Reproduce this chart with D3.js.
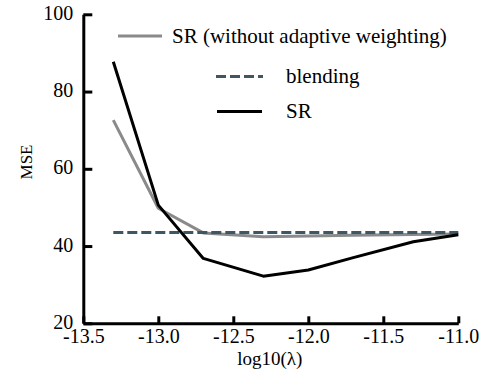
<!DOCTYPE html>
<html>
<head>
<meta charset="utf-8">
<script src="https://cdn.jsdelivr.net/npm/d3@7"></script>
<style>
  html, body { margin: 0; padding: 0; background: #fff; }
  svg text { font-family: 'Liberation Serif', 'Times New Roman', 'DejaVu Serif', serif !important; fill: #000; }
</style>
</head>
<body>
<div id="chart"></div>
<script>
const lambdas = [-13.3, -13.0, -12.7, -12.3, -12.0, -11.7, -11.3, -11.0];
const srValues = [87.7, 50.6, 36.8, 32.2, 33.8, 37.0, 41.1, 42.9];
const srNoAdaptValues = [72.6, 49.8, 43.4, 42.4, 42.6, 42.8, 43.0, 43.1];
const blendingValues = [43.5, 43.5, 43.5, 43.5, 43.5, 43.5, 43.5, 43.5];
const xTicks = [-13.5, -13.0, -12.5, -12.0, -11.5, -11.0];
const yTicks = [20, 40, 60, 80, 100];
const seriesNames = ["SR (without adaptive weighting)", "blending", "SR"];

const W = 491, H = 374;
const x0 = 83.3, x1 = 458.3, yTop = 14.3, yBot = 323.3;

const svg = d3.select("#chart").append("svg").attr("width", W).attr("height", H);

const x = d3.scaleLinear().domain([-13.5, -11.0]).range([x0, x1]);
const y = d3.scaleLinear().domain([20, 100]).range([yBot, yTop]);

const fmt = v => v.toFixed(1).replace("\u2212", "-");

const xAxis = d3.axisBottom(x).tickValues(xTicks).tickSize(-7).tickSizeOuter(0).tickPadding(0).tickFormat(fmt);
const yAxis = d3.axisLeft(y).tickValues(yTicks).tickSize(-9).tickSizeOuter(0).tickPadding(10).tickFormat(d3.format("d"));

const gx = svg.append("g").attr("transform", `translate(0,${yBot})`).call(xAxis);
const gy = svg.append("g").attr("transform", `translate(${x0},0)`).call(yAxis);

[gx, gy].forEach(g => {
  g.attr("font-family", null);
  g.select(".domain").attr("stroke", "#000").attr("stroke-width", 3);
  g.selectAll(".tick line").attr("stroke", "#000").attr("stroke-width", 3);
  g.selectAll(".tick text").attr("font-size", 20).attr("fill", "#000");
});
gx.selectAll(".tick text").attr("y", 20).attr("dy", 0);
gy.selectAll(".tick text").attr("dy", "0.25em");

svg.append("text").attr("x", (x0 + x1) / 2 - 1).attr("y", 365)
  .attr("text-anchor", "middle").attr("font-size", 19).text("log10(λ)");
svg.append("text").attr("transform", `translate(32,162) rotate(-90)`)
  .attr("text-anchor", "middle").attr("font-size", 17).text("MSE");

const line = d3.line().x((d, i) => x(lambdas[i])).y(d => y(d));

svg.append("path").datum(srNoAdaptValues).attr("d", line)
  .attr("fill", "none").attr("stroke", "#8a8a8a").attr("stroke-width", 3).attr("stroke-linejoin", "round");
svg.append("path").datum(blendingValues).attr("d", line)
  .attr("fill", "none").attr("stroke", "#3f5665").attr("stroke-width", 3).attr("stroke-dasharray", "10,4");
svg.append("path").datum(srValues).attr("d", line)
  .attr("fill", "none").attr("stroke", "#000").attr("stroke-width", 3).attr("stroke-linejoin", "round");

const legend = [
  { name: seriesNames[0], color: "#8a8a8a", dash: null, lx: 118, lx2: 162, tx: 172, ly: 36 },
  { name: seriesNames[1], color: "#3f5665", dash: "10,4", lx: 216, lx2: 263, tx: 286, ly: 76.5 },
  { name: seriesNames[2], color: "#000", dash: null, lx: 217, lx2: 262, tx: 286, ly: 111.5 }
];
const lg = svg.append("g");
legend.forEach(d => {
  lg.append("line").attr("x1", d.lx).attr("x2", d.lx2).attr("y1", d.ly).attr("y2", d.ly)
    .attr("stroke", d.color).attr("stroke-width", 3).attr("stroke-dasharray", d.dash);
  lg.append("text").attr("x", d.tx).attr("y", d.ly).attr("dy", "0.33em")
    .attr("font-size", 21).text(d.name);
});
</script>
</body>
</html>
